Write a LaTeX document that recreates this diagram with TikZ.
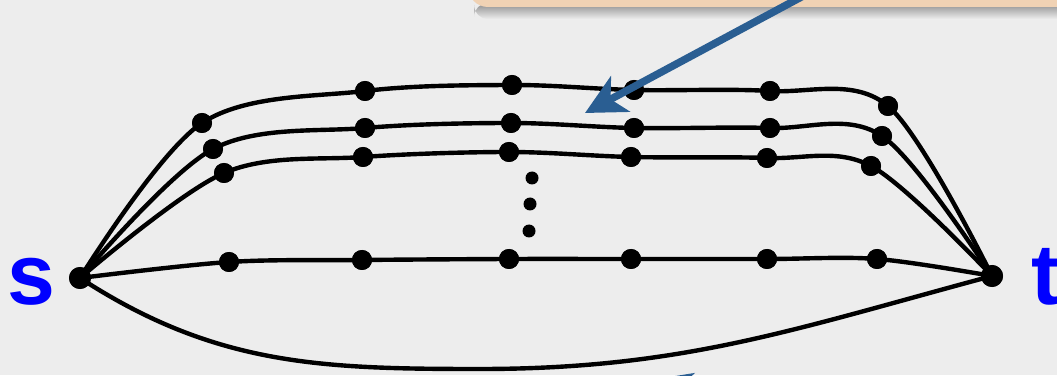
\documentclass[tikz,border=0pt]{standalone}
\usepackage{fontspec}
\setmainfont{Liberation Sans}
\usetikzlibrary{arrows.meta}
\definecolor{bgcol}{HTML}{EDEDED}
\definecolor{boxfill}{HTML}{F0D2B4}
\definecolor{arrowblue}{RGB}{42,94,146}
\definecolor{labelblue}{RGB}{0,0,255}
\begin{document}
\begin{tikzpicture}[x=1pt,y=1pt,
  dot/.style={circle,fill=black,inner sep=0pt,minimum size=20pt},
  smalldot/.style={circle,fill=black,inner sep=0pt,minimum size=13pt},
  edge/.style={line width=4.4pt,black},
  callarrow/.style={line width=7.5pt,arrowblue,-{Stealth[length=40pt,width=40pt,inset=11pt]}},
  terminal/.style={inner sep=0pt,anchor=base west,text=labelblue,font=\fontsize{86}{86}\selectfont\bfseries}]
\useasboundingbox (0,0) rectangle (1057,375);
\fill[bgcol] (0,0) rectangle (1057,375);
\clip (0,0) rectangle (1057,375);

% callout box (cut off at the top) with its shadow
\shade[top color=black!45,bottom color=bgcol,rounded corners=14pt] (474,356) rectangle (1120,372);
\node[fill=boxfill,rounded corners=20pt,minimum width=632pt,minimum height=90pt,inner sep=0pt] (callout) at (784,413) {};

% terminals
\node[dot,minimum size=22pt] (s) at (80,97) {};
\node[dot,minimum size=22pt] (t) at (992,99) {};
\node[terminal] (slab) at (7,71) {s};
\node[terminal] (tlab) at (1031,71) {t};

% path nodes
\node[dot] (a1) at (202,252) {};
\node[dot] (a2) at (365,284) {};
\node[dot] (a3) at (512,290) {};
\node[dot] (a4) at (634,285) {};
\node[dot] (a5) at (770,284) {};
\node[dot] (a6) at (888,269) {};
\node[dot] (b1) at (213,226) {};
\node[dot] (b2) at (365,247) {};
\node[dot] (b3) at (511,252) {};
\node[dot] (b4) at (634,247) {};
\node[dot] (b5) at (770,247) {};
\node[dot] (b6) at (882,239) {};
\node[dot] (c1) at (224,202) {};
\node[dot] (c2) at (363,218) {};
\node[dot] (c3) at (509,223) {};
\node[dot] (c4) at (631,218) {};
\node[dot] (c5) at (767,217) {};
\node[dot] (c6) at (871,209) {};
\node[dot] (d1) at (229,113) {};
\node[dot] (d2) at (362,115) {};
\node[dot] (d3) at (509,116) {};
\node[dot] (d4) at (631,116) {};
\node[dot] (d5) at (767,116) {};
\node[dot] (d6) at (877,116) {};
\node[smalldot] (v1) at (532,197) {};
\node[smalldot] (v2) at (530,171) {};
\node[smalldot] (v3) at (529,144) {};
\coordinate (bot) at (480,6);

% paths
\draw[edge] plot[smooth,tension=0.55] coordinates {(s.center) (a1.center) (a2.center) (a3.center) (a4.center) (a5.center) (a6.center) (t.center)};
\draw[edge] plot[smooth,tension=0.55] coordinates {(s.center) (b1.center) (b2.center) (b3.center) (b4.center) (b5.center) (b6.center) (t.center)};
\draw[edge] plot[smooth,tension=0.55] coordinates {(s.center) (c1.center) (c2.center) (c3.center) (c4.center) (c5.center) (c6.center) (t.center)};
\draw[edge] plot[smooth,tension=0.55] coordinates {(s.center) (d1.center) (d2.center) (d3.center) (d4.center) (d5.center) (d6.center) (t.center)};
\draw[edge] (s.center) to[out=-33,in=180] (bot) to[out=0,in=195] (t.center);

% redraw dots on top
\foreach \n in {a1,a2,a3,a4,a5,a6,b1,b2,b3,b4,b5,b6,c1,c2,c3,c4,c5,c6,d1,d2,d3,d4,d5,d6}{
  \fill (\n) circle (10pt);
}
\fill (s) circle (11pt);
\fill (t) circle (11pt);

% arrows from callouts
\coordinate (arrowstart) at (805,380);
\coordinate (arrowtip) at (585,262);
\draw[callarrow] (arrowstart) -- (arrowtip);
\coordinate (lowstart) at (935,-97);
\coordinate (lowtip) at (650,-5);
\draw[callarrow] (lowstart) -- (lowtip);
\end{tikzpicture}
\end{document}
